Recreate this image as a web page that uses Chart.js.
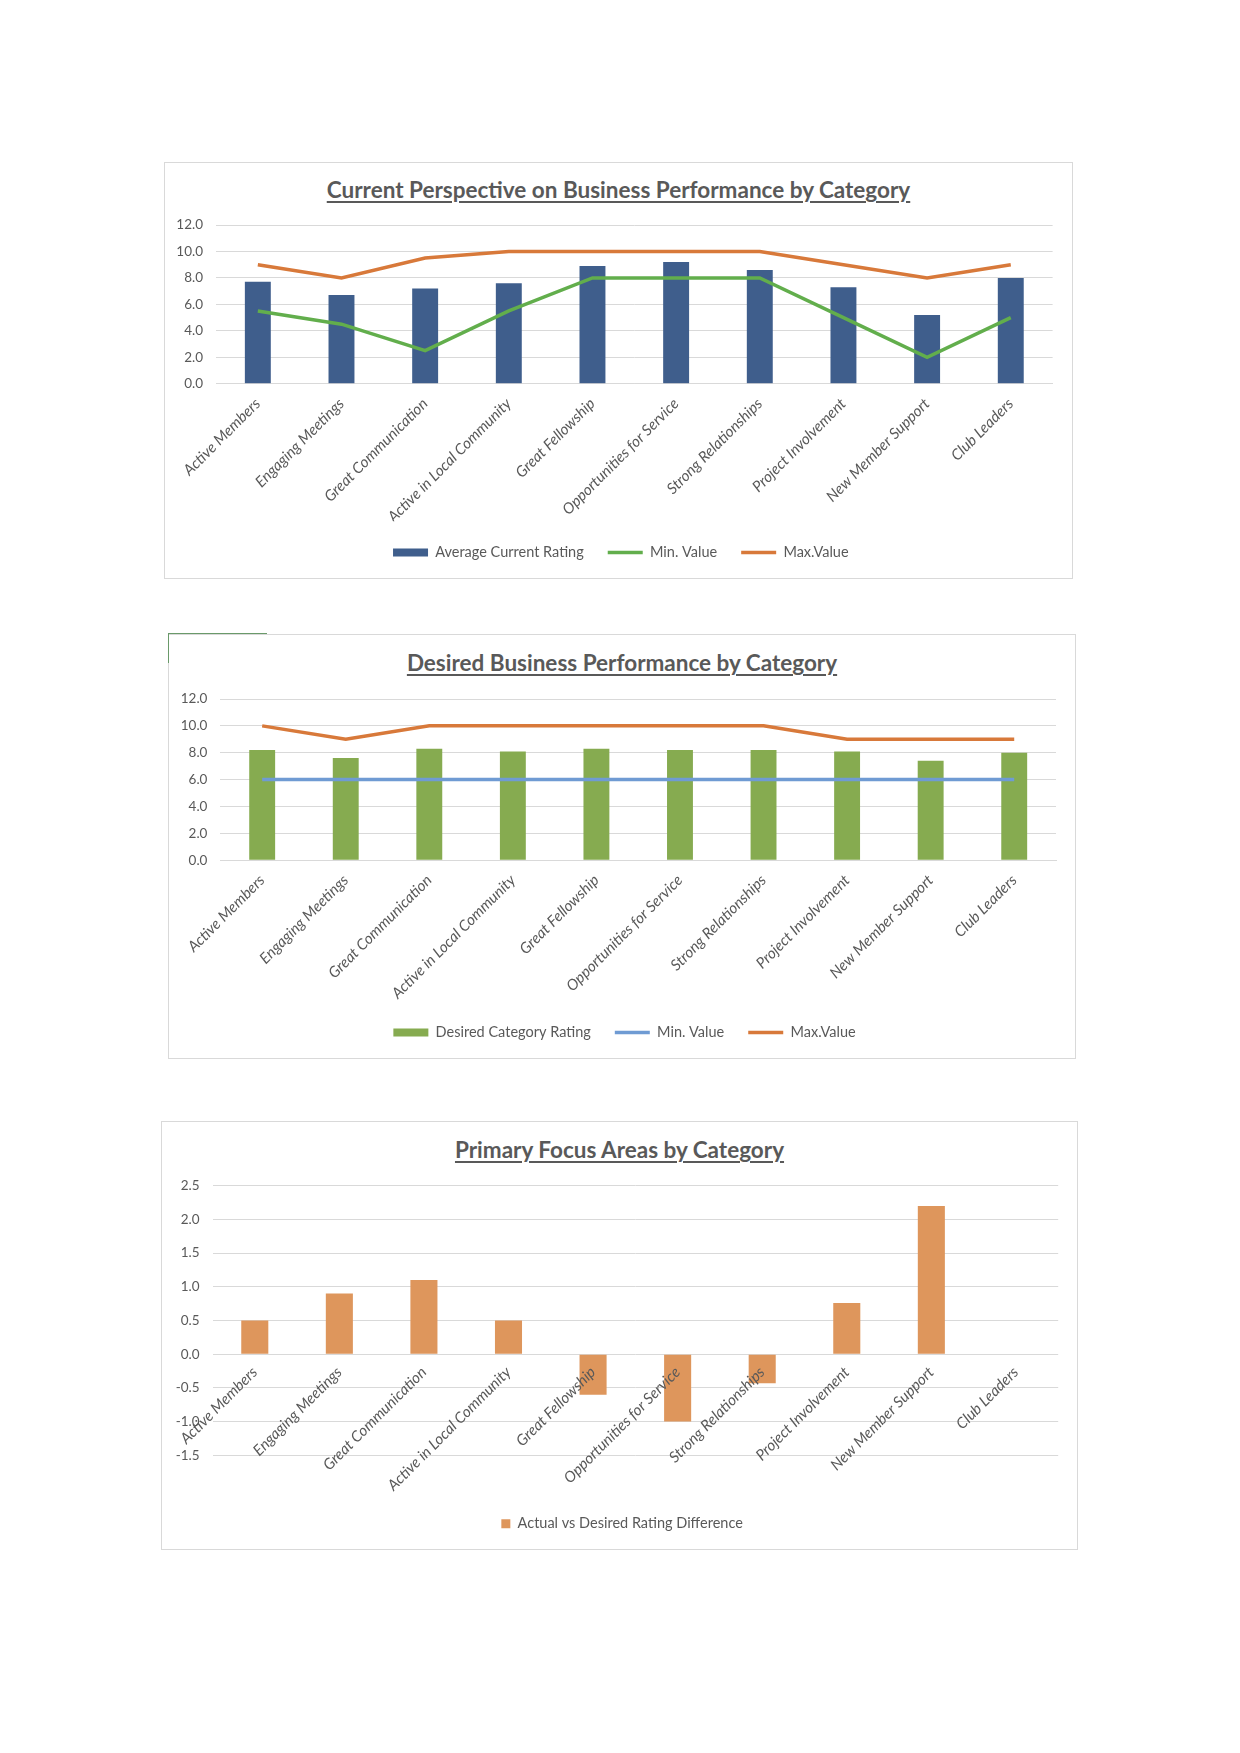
<!DOCTYPE html>
<html>
<head>
<meta charset="utf-8">
<script src="https://cdn.jsdelivr.net/npm/chart.js@4"></script>
<style>
  body { margin: 0; background: #fff; width: 1240px; height: 1753px; position: relative; font-family: Lato, sans-serif; }
  .box { position: absolute; border: 1px solid #d9d9d9; box-sizing: border-box; background: #fff; }
  .box canvas { position: absolute; left: 0; top: 0; }
  .title { position: absolute; left: 0; right: 0; text-align: center; font: bold 22.5px Lato, sans-serif; line-height: 24px;
           color: #595959; text-decoration: underline; text-decoration-thickness: 1.5px; text-underline-offset: 3px; }
  .handle { position: absolute; left: 168px; top: 633px; width: 98px; height: 29px; border-top: 1px solid #6a9a6a; border-left: 1px solid #6a9a6a; }
</style>
</head>
<body>

<div class="box" style="left:164px;top:162px;width:909px;height:417px">
  <div class="title" style="top:15px">Current Perspective on Business Performance by Category</div>
  <canvas id="chart1" width="907" height="415"></canvas>
</div>

<div class="box" style="left:168px;top:634px;width:908px;height:425px">
  <div class="title" style="top:16px">Desired Business Performance by Category</div>
  <canvas id="chart2" width="906" height="423"></canvas>
</div>
<div class="handle"></div>

<div class="box" style="left:161px;top:1121px;width:917px;height:429px">
  <div class="title" style="top:16px">Primary Focus Areas by Category</div>
  <canvas id="chart3" width="915" height="427"></canvas>
</div>

<script>
const categories = ['Active Members', 'Engaging Meetings', 'Great Communication', 'Active in Local Community',
    'Great Fellowship', 'Opportunities for Service', 'Strong Relationships', 'Project Involvement',
    'New Member Support', 'Club Leaders'];

// chart 1
const currentRating = [7.7, 6.7, 7.2, 7.6, 8.9, 9.2, 8.6, 7.3, 5.2, 8.0];
const currentMin = [5.5, 4.5, 2.5, 5.5, 8, 8, 8, 5, 2, 5];
const currentMax = [9, 8, 9.5, 10, 10, 10, 10, 9, 8, 9];

// chart 2
const desiredRating = [8.2, 7.6, 8.3, 8.1, 8.3, 8.2, 8.2, 8.1, 7.4, 8.0];
const desiredMin = [6, 6, 6, 6, 6, 6, 6, 6, 6, 6];
const desiredMax = [10, 9, 10, 10, 10, 10, 10, 9, 9, 9];

// chart 3
const ratingDifference = [0.5, 0.9, 1.1, 0.5, -0.6, -1.0, -0.43, 0.76, 2.2, 0.0];

const gray = '#595959';
const gridColor = '#d9d9d9';

// nudge the legend a little to the right, like the excel original
const legendShift = {
    id: 'legendShift',
    afterLayout: chart => {
        chart.legend.left += 12;
        chart.legend.right += 12;
    }
};

function ratingOptions(pad, yWidth, xHeight) {
    return {
        responsive: false,
        animation: false,
        layout: { padding: pad },
        plugins: {
            title: { display: false },
            tooltip: { enabled: false },
            legend: {
                position: 'bottom',
                labels: {
                    usePointStyle: true,
                    pointStyleWidth: 35,
                    boxHeight: 8,
                    padding: 24,
                    color: gray,
                    font: { family: 'Lato', size: 14.5 },
                    sort: (a, b) => a.datasetIndex - b.datasetIndex
                }
            }
        },
        scales: {
            x: {
                grid: { display: false },
                border: { color: gridColor },
                ticks: {
                    autoSkip: false, minRotation: 45, maxRotation: 45, padding: 3,
                    color: gray, font: { family: 'Lato', size: 15.2, style: 'italic' }
                },
                afterFit: s => { s.height = xHeight; }
            },
            y: {
                min: 0, max: 12,
                border: { display: false },
                grid: { color: gridColor, drawTicks: false },
                ticks: {
                    stepSize: 2, padding: 13, color: gray,
                    font: { family: 'Lato', size: 13.5 },
                    callback: v => v.toFixed(1)
                },
                afterFit: s => { s.width = yWidth; }
            }
        }
    };
}

new Chart(document.querySelector('#chart1'), {
    type: 'bar',
    data: {
        labels: categories,
        datasets: [
            {
                label: 'Average Current Rating',
                data: currentRating,
                backgroundColor: '#3F5E8C',
                borderWidth: 0,
                categoryPercentage: 1,
                barPercentage: 0.31,
                pointStyle: 'rect',
                order: 3
            },
            {
                type: 'line',
                label: 'Min. Value',
                data: currentMin,
                borderColor: '#62AE4C',
                backgroundColor: '#62AE4C',
                borderWidth: 3.5,
                pointRadius: 0,
                pointStyle: 'line',
                tension: 0,
                order: 1
            },
            {
                type: 'line',
                label: 'Max.Value',
                data: currentMax,
                borderColor: '#D8793A',
                backgroundColor: '#D8793A',
                borderWidth: 3.5,
                pointRadius: 0,
                pointStyle: 'line',
                tension: 0,
                order: 2
            }
        ]
    },
    options: ratingOptions({ top: 62, right: 19.4, bottom: 8.2, left: 0 }, 51, 137.6),
    plugins: [legendShift]
});

new Chart(document.querySelector('#chart2'), {
    type: 'bar',
    data: {
        labels: categories,
        datasets: [
            {
                label: 'Desired Category Rating',
                data: desiredRating,
                backgroundColor: '#86AB50',
                borderWidth: 0,
                categoryPercentage: 1,
                barPercentage: 0.31,
                pointStyle: 'rect',
                order: 3
            },
            {
                type: 'line',
                label: 'Min. Value',
                data: desiredMin,
                borderColor: '#6F9BD3',
                backgroundColor: '#6F9BD3',
                borderWidth: 3.5,
                pointRadius: 0,
                pointStyle: 'line',
                tension: 0,
                order: 1
            },
            {
                type: 'line',
                label: 'Max.Value',
                data: desiredMax,
                borderColor: '#D8793A',
                backgroundColor: '#D8793A',
                borderWidth: 3.5,
                pointRadius: 0,
                pointStyle: 'line',
                tension: 0,
                order: 2
            }
        ]
    },
    options: ratingOptions({ top: 64, right: 19, bottom: 8.3, left: 0 }, 51.4, 141),
    plugins: [legendShift]
});

//difference chart, category axis sits on zero and its labels go over the bars
new Chart(document.querySelector('#chart3'), {
    type: 'bar',
    data: {
        labels: categories,
        datasets: [
            {
                label: 'Actual vs Desired Rating Difference',
                data: ratingDifference,
                backgroundColor: '#DE965C',
                borderWidth: 0,
                categoryPercentage: 1,
                barPercentage: 0.32,
                pointStyle: 'rect'
            }
        ]
    },
    options: {
        responsive: false,
        animation: false,
        layout: { padding: { top: 63.7, right: 18.8, bottom: 8, left: 0 } },
        plugins: {
            tooltip: { enabled: false },
            legend: {
                position: 'bottom',
                labels: {
                    usePointStyle: true,
                    pointStyleWidth: 9,
                    boxHeight: 9,
                    padding: 61.2,
                    color: gray,
                    font: { family: 'Lato', size: 14.5 }
                }
            }
        },
        scales: {
            x: {
                position: { y: 0 },
                grid: { display: false },
                border: { display: false },
                ticks: {
                    z: 1,
                    autoSkip: false, minRotation: 45, maxRotation: 45, padding: 1,
                    color: gray, font: { family: 'Lato', size: 15.2, style: 'italic' }
                }
            },
            y: {
                min: -1.5, max: 2.5,
                border: { display: false },
                grid: { color: gridColor, drawTicks: false },
                ticks: {
                    stepSize: 0.5, padding: 13, color: gray,
                    font: { family: 'Lato', size: 13.5 },
                    callback: v => v.toFixed(1)
                },
                afterFit: s => { s.width = 50.5; }
            }
        }
    },
    plugins: [legendShift]
});
</script>
</body>
</html>
